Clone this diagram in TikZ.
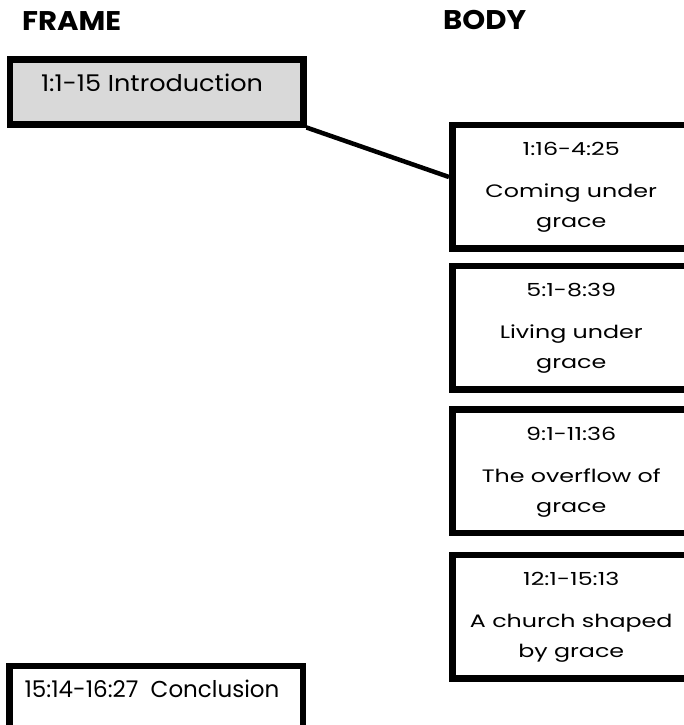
\documentclass[tikz,border=0pt]{standalone}
\usepackage{fontspec}
\setmainfont{Poppins}
\newfontfamily\bodywide[FakeStretch=1.32]{Poppins}
\newfontfamily\sidewide[FakeStretch=1.11]{Poppins}
\newfontfamily\headwide[FakeStretch=1.08]{Poppins}
\usetikzlibrary{calc}
\definecolor{introgray}{HTML}{D9D9D9}
\tikzset{
  x=1pt, y=-1pt,
  bigbox/.style={draw=black, line width=6.5pt, minimum width=238pt, minimum height=123.5pt, inner sep=0pt, anchor=north west},
  sidebox/.style={draw=black, line width=6.5pt, minimum width=293.5pt, minimum height=64.5pt, inner sep=0pt, anchor=north west},
  head/.style={font=\headwide\fontsize{27}{30}\selectfont\bfseries, anchor=base west, inner sep=0pt},
  bodytxt/.style={font=\bodywide\fontsize{18}{20}\selectfont, anchor=base, inner sep=0pt},
  sidetxt/.style={font=\sidewide\fontsize{23}{26}\selectfont, anchor=base, inner sep=0pt},
  concltxt/.style={font=\fontsize{23}{26}\selectfont, anchor=base, inner sep=0pt},
}
\begin{document}
\begin{tikzpicture}
\useasboundingbox (0,0) rectangle (684,725);
\clip (0,0) rectangle (684,725);
\node[head] (frame) at (22,31) {FRAME};
\node[head] (body) at (443,30) {BODY};

\node[sidebox, fill=introgray] (intro) at (6.5,56.5) {};
\node[sidetxt] (introt) at (152,91.5) {1:1-15 Introduction};

\node[sidebox] (concl) at (6,662.5) {};
\node[concltxt] (conclt) at (152,697) {15:14-16:27\ \ Conclusion};

\node[bigbox] (b1) at (449,121.5) {};
\node[bigbox] (b2) at (449,262.5) {};
\node[bigbox] (b3) at (449,406) {};
\node[bigbox] (b4) at (449,551.5) {};

\node[bodytxt] (d1) at ([yshift=-34pt]b1.north) {1:16-4:25};
\node[bodytxt] (l1a) at ([yshift=-76pt]b1.north) {Coming under};
\node[bodytxt] (l1b) at ([yshift=-106pt]b1.north) {grace};

\node[bodytxt] (d2) at ([yshift=-34pt]b2.north) {5:1-8:39};
\node[bodytxt] (l2a) at ([yshift=-76pt]b2.north) {Living under};
\node[bodytxt] (l2b) at ([yshift=-106pt]b2.north) {grace};

\node[bodytxt] (d3) at ([yshift=-34pt]b3.north) {9:1-11:36};
\node[bodytxt] (l3a) at ([yshift=-76pt]b3.north) {The overflow of};
\node[bodytxt] (l3b) at ([yshift=-106pt]b3.north) {grace};

\node[bodytxt] (d4) at ([yshift=-34pt]b4.north) {12:1-15:13};
\node[bodytxt] (l4a) at ([yshift=-76pt]b4.north) {A church shaped};
\node[bodytxt] (l4b) at ([yshift=-106pt]b4.north) {by grace};

\draw[line width=4.5pt] (intro.south east) -- ([yshift=-55.5pt]b1.north west);
\end{tikzpicture}
\end{document}
